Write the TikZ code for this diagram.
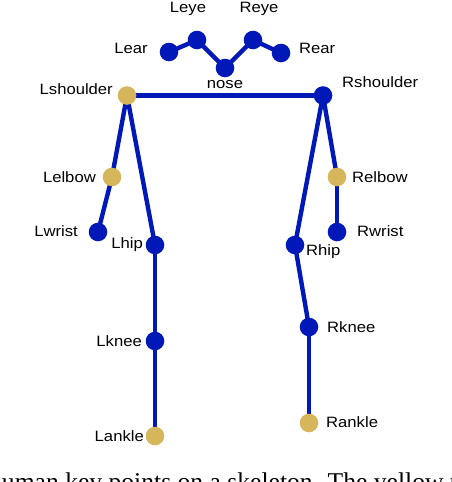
\documentclass[tikz,border=0pt]{standalone}
\usepackage{fontspec}
\usepackage{tikz}
\usetikzlibrary{backgrounds}
\newfontfamily\kpfont[FakeStretch=1.11]{Liberation Sans}
\newfontfamily\capfont{Liberation Serif}
\definecolor{hueso}{RGB}{0,24,184}
\definecolor{clave}{RGB}{214,182,90}
\tikzset{
  kp/.style={circle, fill=hueso, inner sep=0pt, minimum size=18.6pt},
  kpy/.style={kp, fill=clave},
  lbl/.style={inner sep=0pt, font=\kpfont\fontsize{15}{18}\selectfont},
  capt/.style={inner sep=0pt, font=\capfont\fontsize{25.6}{30}\selectfont},
  bone/.style={draw=hueso, line width=4.4pt}
}

\begin{document}
\begin{tikzpicture}[x=1pt, y=-1pt]
    \useasboundingbox (0,0) rectangle (452,482);
    \clip (0,0) rectangle (452,482);
    % head
    \node[kp] (nose) at (225,68) {};
    \node[kp] (leye) at (197,40) {};
    \node[kp] (reye) at (253,40) {};
    \node[kp] (lear) at (169,52) {};
    \node[kp] (rear) at (281,53) {};
    % arms
    \node[kpy] (lsh) at (127,95.5) {};
    \node[kp]  (rsh) at (323,95.5) {};
    \node[kpy] (lel) at (112,177) {};
    \node[kpy] (rel) at (337,177) {};
    \node[kp]  (lwr) at (98,232) {};
    \node[kp]  (rwr) at (337,232) {};
    % legs
    \node[kp]  (lhip) at (155,245) {};
    \node[kp]  (rhip) at (295,245) {};
    \node[kp]  (lkn)  at (155,341) {};
    \node[kp]  (rkn)  at (309,327) {};
    \node[kpy] (lan)  at (155,436) {};
    \node[kpy] (ran)  at (309,423) {};
    % bones
    \begin{pgfonlayer}{background}
      \foreach \a/\b in {lear/leye, leye/nose, nose/reye, reye/rear,
                         lsh/rsh, lsh/lel, lel/lwr, rsh/rel, rel/rwr,
                         lsh/lhip, lhip/lkn, lkn/lan,
                         rsh/rhip, rhip/rkn, rkn/ran}
        \draw[bone] (\a.center) -- (\b.center);
    \end{pgfonlayer}
    % labels
    \node[lbl, anchor=base]      (t-leye) at (188,12)  {Leye};
    \node[lbl, anchor=base]      (t-reye) at (259,12)  {Reye};
    \node[lbl, anchor=base east] (t-lear) at (148,53)  {Lear};
    \node[lbl, anchor=base west] (t-rear) at (299,53)  {Rear};
    \node[lbl, anchor=base]      (t-nose) at (225,88)  {nose};
    \node[lbl, anchor=base east] (t-lsh)  at (113,94)  {Lshoulder};
    \node[lbl, anchor=base west] (t-rsh)  at (342,87)  {Rshoulder};
    \node[lbl, anchor=base east] (t-lel)  at (96,182)  {Lelbow};
    \node[lbl, anchor=base west] (t-rel)  at (352,182) {Relbow};
    \node[lbl, anchor=base east] (t-lwr)  at (78,236)  {Lwrist};
    \node[lbl, anchor=base west] (t-rwr)  at (357,236) {Rwrist};
    \node[lbl, anchor=base east] (t-lhip) at (143,248) {Lhip};
    \node[lbl, anchor=base west] (t-rhip) at (306,255) {Rhip};
    \node[lbl, anchor=base east] (t-lkn)  at (142,346) {Lknee};
    \node[lbl, anchor=base west] (t-rkn)  at (327,332) {Rknee};
    \node[lbl, anchor=base east] (t-lan)  at (144,441) {Lankle};
    \node[lbl, anchor=base west] (t-ran)  at (326,427) {Rankle};
    % caption, cut at the lower edge
    \node[capt, anchor=base west] (caption) at (-11,490.5)
          {human key points on a skeleton. The yellow points};
  \end{tikzpicture}
\end{document}
